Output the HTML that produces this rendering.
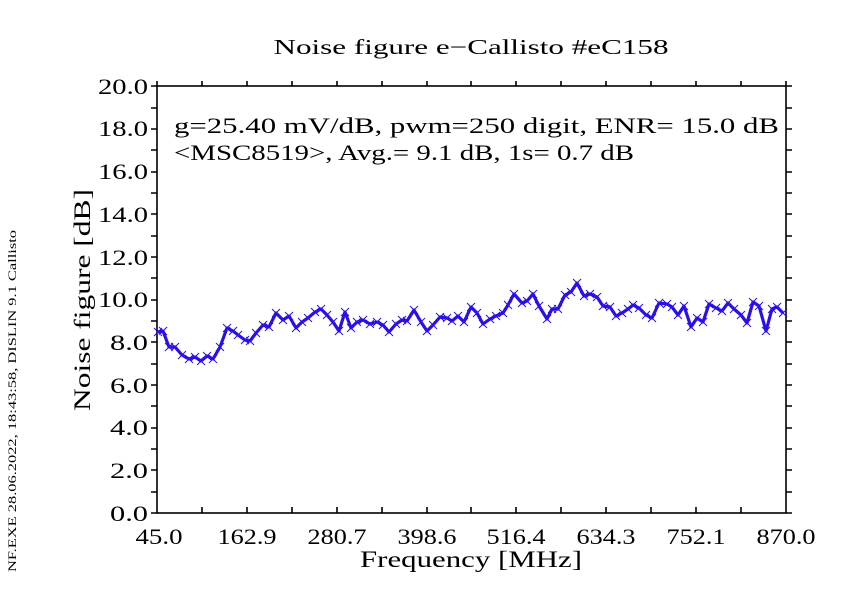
<!DOCTYPE html>
<html><head><meta charset="utf-8"><style>
html,body{margin:0;padding:0;background:#fff;}
svg{display:block;}
text{font-family:"Liberation Serif",serif;fill:#000;}
</style></head><body>
<svg width="848" height="600" viewBox="0 0 848 600" xmlns="http://www.w3.org/2000/svg">
<g stroke="#000" stroke-width="1.6" fill="none">
<rect x="157" y="86" width="629" height="427"/>
<path d="M157,86v-5M202,86v-5M247,86v-5M292,86v-5M337,86v-5M382,86v-5M427,86v-5M471,86v-5M516,86v-5M561,86v-5M606,86v-5M651,86v-5M696,86v-5M741,86v-5M786,86v-5"/>
<path d="M202,513v-6M247,513v-6M292,513v-6M337,513v-6M382,513v-6M427,513v-6M471,513v-6M516,513v-6M561,513v-6M606,513v-6M651,513v-6M696,513v-6M741,513v-6"/>
<path d="M157,513h-6M157,492h-6M157,470h-6M157,449h-6M157,428h-6M157,406h-6M157,385h-6M157,364h-6M157,342h-6M157,321h-6M157,300h-6M157,278h-6M157,257h-6M157,236h-6M157,214h-6M157,193h-6M157,172h-6M157,150h-6M157,129h-6M157,108h-6M157,86h-6"/>
<path d="M786,513h6M786,492h6M786,470h6M786,449h6M786,428h6M786,406h6M786,385h6M786,364h6M786,342h6M786,321h6M786,300h6M786,278h6M786,257h6M786,236h6M786,214h6M786,193h6M786,172h6M786,150h6M786,129h6M786,108h6M786,86h6"/>
</g>
<g font-size="22" text-anchor="end" lengthAdjust="spacingAndGlyphs">
<text x="148" y="521" textLength="38" lengthAdjust="spacingAndGlyphs">0.0</text><text x="148" y="478" textLength="38" lengthAdjust="spacingAndGlyphs">2.0</text><text x="148" y="435" textLength="38" lengthAdjust="spacingAndGlyphs">4.0</text><text x="148" y="393" textLength="38" lengthAdjust="spacingAndGlyphs">6.0</text><text x="148" y="350" textLength="38" lengthAdjust="spacingAndGlyphs">8.0</text><text x="148" y="307" textLength="50" lengthAdjust="spacingAndGlyphs">10.0</text><text x="148" y="265" textLength="50" lengthAdjust="spacingAndGlyphs">12.0</text><text x="148" y="222" textLength="50" lengthAdjust="spacingAndGlyphs">14.0</text><text x="148" y="179" textLength="50" lengthAdjust="spacingAndGlyphs">16.0</text><text x="148" y="136" textLength="50" lengthAdjust="spacingAndGlyphs">18.0</text><text x="148" y="94" textLength="50" lengthAdjust="spacingAndGlyphs">20.0</text>
</g>
<g font-size="22" text-anchor="middle">
<text x="159" y="544" textLength="47" lengthAdjust="spacingAndGlyphs">45.0</text><text x="247" y="544" textLength="59" lengthAdjust="spacingAndGlyphs">162.9</text><text x="337" y="544" textLength="59" lengthAdjust="spacingAndGlyphs">280.7</text><text x="427" y="544" textLength="59" lengthAdjust="spacingAndGlyphs">398.6</text><text x="516" y="544" textLength="59" lengthAdjust="spacingAndGlyphs">516.4</text><text x="606" y="544" textLength="59" lengthAdjust="spacingAndGlyphs">634.3</text><text x="696" y="544" textLength="59" lengthAdjust="spacingAndGlyphs">752.1</text><text x="786" y="544" textLength="59" lengthAdjust="spacingAndGlyphs">870.0</text>
</g>
<text x="471" y="567" font-size="23" text-anchor="middle" textLength="222" lengthAdjust="spacingAndGlyphs">Frequency [MHz]</text>
<text x="471" y="54" font-size="21" text-anchor="middle" textLength="395" lengthAdjust="spacingAndGlyphs">Noise figure e−Callisto #eC158</text>
<text x="174" y="133" font-size="22" textLength="605" lengthAdjust="spacingAndGlyphs">g=25.40 mV/dB, pwm=250 digit, ENR= 15.0 dB</text>
<text x="174" y="160" font-size="22" textLength="460" lengthAdjust="spacingAndGlyphs">&lt;MSC8519&gt;, Avg.= 9.1 dB, 1s= 0.7 dB</text>
<text transform="translate(90,300) rotate(-90)" font-size="23" text-anchor="middle" textLength="222" lengthAdjust="spacingAndGlyphs">Noise figure [dB]</text>
<text transform="translate(16,401) rotate(-90)" font-size="12" text-anchor="middle" textLength="342" lengthAdjust="spacingAndGlyphs">NF.EXE 28.06.2022, 18:43:58, DISLIN 9.1 Callisto</text>
<polyline id="d" fill="none" stroke="#2a10e8" stroke-width="3.2" stroke-linejoin="round" points="158,332 163,331 169,347 175,347 182,355 189,359 195,357 201,361 207,356 213,359 220,347 227,328 233,331 238,335 245,340 250,341 256,333 263,325 269,327 276,313 283,320 289,316 296,328 302,322 308,318 315,312 321,309 327,315 333,322 339,331 345,312 351,328 357,322 363,320 370,324 377,322 383,325 389,332 396,324 402,320 407,321 414,310 421,322 427,331 433,325 440,317 447,318 452,321 458,316 464,322 471,307 477,313 483,324 490,319 496,316 503,313 508,305 514,294 522,303 527,301 533,294 539,306 547,319 552,309 558,309 565,295 571,292 577,283 584,296 590,294 597,297 603,306 610,307 616,316 622,313 628,309 633,305 639,308 646,315 652,318 659,303 667,304 672,307 678,315 684,306 691,327 697,318 703,322 709,304 716,308 722,311 728,303 734,309 741,315 747,323 753,302 759,306 766,331 772,309 777,307 783,313"/>
<g id="m" stroke="#2a10e8" stroke-width="1" fill="none"></g>
<script>
var pts=document.getElementById('d').getAttribute('points').trim().split(/\s+/);var s='';
pts.forEach(function(p){var a=p.split(',');var x=+a[0],y=+a[1];s+='M'+(x-4)+','+(y-4)+'l8,8M'+(x-4)+','+(y+4)+'l8,-8';});
var e=document.createElementNS('http://www.w3.org/2000/svg','path');e.setAttribute('d',s);document.getElementById('m').appendChild(e);
</script>
</svg>
</body></html>
